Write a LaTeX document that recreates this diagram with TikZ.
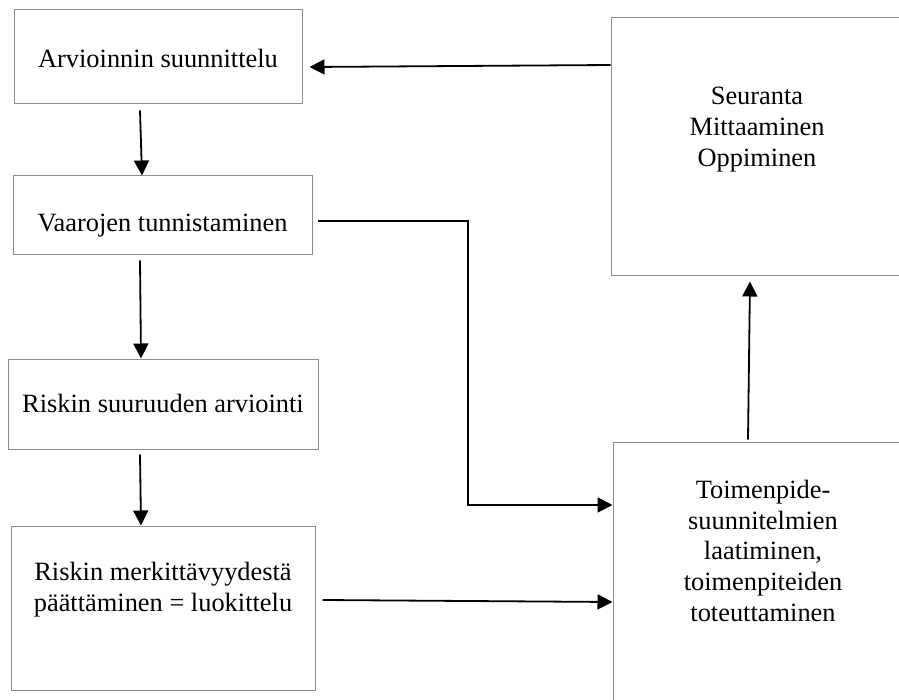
\documentclass[tikz,border=0pt]{standalone}
\usepackage{fontspec}
\setmainfont{Liberation Serif}
\usepackage{tikz}
\usetikzlibrary{positioning,arrows.meta}

\begin{document}
\begin{tikzpicture}[x=0.5pt, y=-0.5pt,
    box_node/.style={draw=black!45, line width=0.5pt, rectangle, inner sep=0pt},
    text_node/.style={align=center, anchor=base, inner sep=0pt, font=\fontsize{13.2pt}{15.4pt}\selectfont},
    flow_arrow/.style={draw, line width=0.9pt, -{Triangle[length=7.5pt, width=7.5pt]}}]
    \useasboundingbox (0,0) rectangle (899,700);

    % left column
    \node[box_node, minimum width=144pt, minimum height=47pt] (plan) at (158,57) {};
    \node[box_node, minimum width=149.5pt, minimum height=39.5pt] (haz) at (162.5,215.5) {};
    \node[box_node, minimum width=155pt, minimum height=45pt] (size) at (163,404) {};
    \node[box_node, minimum width=152pt, minimum height=82pt] (sig) at (163,608) {};
    % right column
    \node[box_node, minimum width=146pt, minimum height=129pt] (mon) at (757,147) {};
    \node[box_node, minimum width=150pt, minimum height=131pt] (act) at (763,573) {};

    % texts sit on the baseline of their last line
    \node[text_node] (plan_txt) at ([yshift=-29pt]plan.north) {Arvioinnin suunnittelu};
    \node[text_node] (haz_txt) at ([yshift=-28pt]haz.north) {Vaarojen tunnistaminen};
    \node[text_node] (size_txt) at ([yshift=-27pt]size.north) {Riskin suuruuden arviointi};
    \node[text_node] (sig_txt) at ([yshift=-43pt]sig.north) {Riskin merkittävyydestä\\päättäminen = luokittelu};
    \node[text_node] (mon_txt) at ([yshift=-74.5pt]mon.north) {Seuranta\\Mittaaminen\\Oppiminen};
    \node[text_node] (act_txt) at ([yshift=-90pt]act.north) {Toimenpide-\\suunnitelmien\\laatiminen,\\toimenpiteiden\\toteuttaminen};

    \coordinate (jog) at (468,400);

    \draw[flow_arrow] ([xshift=-9pt, yshift=-3pt]plan.south) -- ([xshift=-10.25pt]haz.north);
    \draw[flow_arrow] ([xshift=-11.25pt, yshift=-2.5pt]haz.south) -- ([xshift=-11pt]size.north);
    \draw[flow_arrow] ([xshift=-11.5pt, yshift=-2.5pt]size.south) -- ([xshift=-11pt]sig.north);
    \draw[flow_arrow] ([yshift=41pt]mon.west) -- ([xshift=3.5pt, yshift=-5pt]plan.east);
    \draw[flow_arrow] ([xshift=2.5pt, yshift=-2.75pt]haz.east) -| (jog) |- ([yshift=34pt]act.west);
    \draw[flow_arrow] ([xshift=3.5pt, yshift=4pt]sig.east) -- ([yshift=-14.5pt]act.west);
    \draw[flow_arrow] ([xshift=-7.5pt, yshift=1pt]act.north) -- ([xshift=-3.5pt, yshift=-2.5pt]mon.south);
\end{tikzpicture}
\end{document}
